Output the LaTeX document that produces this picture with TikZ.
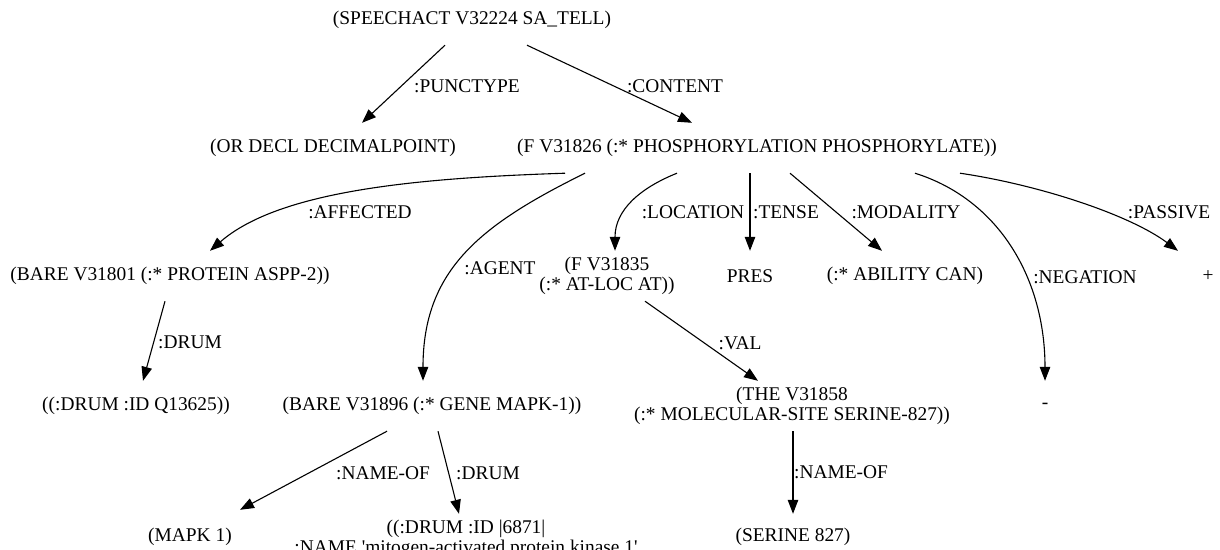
\documentclass[tikz,border=0pt]{standalone}
\usepackage{fontspec}
\setmainfont{Liberation Serif}
\usetikzlibrary{arrows.meta}

\begin{document}
\begin{tikzpicture}[x=1pt, y=-1pt,
    term/.style={minimum height=50pt, inner sep=0pt, align=center,
        font=\fontsize{19.4}{20}\selectfont},
    rel/.style={inner sep=0pt, font=\fontsize{19.4}{20}\selectfont},
    edge/.style={line width=1.1pt, -{Triangle[length=14pt,width=10.5pt]}}]
    \useasboundingbox (0,0) rectangle (1220,549);
    \clip (0,0) rectangle (1220,549);

    \node[term] (speech) at (472,20) {(SPEECHACT V32224 SA\_TELL)};

    \node[term] (ordecl) at (333,148) {(OR DECL DECIMALPOINT)};
    \node[term] (f826) at (757,148) {(F V31826 (:* PHOSPHORYLATION PHOSPHORYLATE))};

    \node[term] (bare801) at (170,276) {(BARE V31801 (:* PROTEIN ASPP-2))};
    \node[term] (f835) at (607,276) {(F V31835\\(:* AT-LOC AT))};
    \node[term] (pres) at (750,276) {PRES};
    \node[term] (ability) at (905,276) {(:* ABILITY CAN)};
    \node[term] (plus) at (1208,276) {+};

    \node[term] (drumq) at (136,406) {((:DRUM :ID Q13625))};
    \node[term] (bare896) at (432,406) {(BARE V31896 (:* GENE MAPK-1))};
    \node[term] (the858) at (792,406) {(THE V31858\\(:* MOLECULAR-SITE SERINE-827))};
    \node[term] (minus) at (1045,406) {-};

    \node[term] (mapk) at (190,537) {(MAPK 1)};
    \node[term] (drum6871) at (466,539) {((:DRUM :ID |6871|\\:NAME \textquotesingle mitogen-activated protein kinase 1\textquotesingle};
    \node[term] (serine) at (793,537) {(SERINE 827)};

    \draw[edge] ([xshift=-27pt]speech.south) -- ([xshift=29pt]ordecl.north);
    \node[rel] (punctype) at (467,86) {:PUNCTYPE};
    \draw[edge] ([xshift=55pt]speech.south) -- ([xshift=-65pt]f826.north);
    \node[rel] (content) at (675,86) {:CONTENT};

    \draw[edge] ([xshift=-192pt]f826.south) .. controls (420,178) and (280,190) .. ([xshift=40pt]bare801.north);
    \node[rel] (affected) at (360,212) {:AFFECTED};
    \draw[edge] ([xshift=-172pt]f826.south) .. controls (480,225) and (423,270) .. ([xshift=-9pt]bare896.north);
    \node[rel] (agent) at (500,268) {:AGENT};
    \draw[edge] ([xshift=-80pt]f826.south) .. controls (640,188) and (615,210) .. ([xshift=8pt]f835.north);
    \node[rel] (location) at (693,212) {:LOCATION};
    \draw[edge] ([xshift=-7pt]f826.south) -- (pres.north);
    \node[rel] (tense) at (786,212) {:TENSE};
    \draw[edge] ([xshift=33pt]f826.south) -- ([xshift=-23pt]ability.north);
    \node[rel] (modality) at (906,212) {:MODALITY};
    \draw[edge] ([xshift=158pt]f826.south) .. controls (1000,200) and (1045,280) .. (minus.north);
    \node[rel] (negation) at (1085,277) {:NEGATION};
    \draw[edge] ([xshift=203pt]f826.south) .. controls (1040,185) and (1130,215) .. ([xshift=-30pt]plus.north);
    \node[rel] (passive) at (1169,212) {:PASSIVE};

    \draw[edge] ([xshift=-5pt]bare801.south) -- ([xshift=7pt]drumq.north);
    \node[rel] (drumone) at (190,342) {:DRUM};
    \draw[edge] ([xshift=38pt]f835.south) -- ([xshift=-34pt]the858.north);
    \node[rel] (val) at (740,343) {:VAL};

    \draw[edge] ([xshift=-45pt]bare896.south) -- ([xshift=50pt,yshift=2pt]mapk.north);
    \node[rel] (nameofone) at (383,473) {:NAME-OF};
    \draw[edge] ([xshift=6pt]bare896.south) -- ([xshift=-7pt]drum6871.north);
    \node[rel] (drumtwo) at (488,473) {:DRUM};
    \draw[edge] ([xshift=1pt]the858.south) -- ([yshift=-2pt]serine.north);
    \node[rel] (nameoftwo) at (841,472) {:NAME-OF};
\end{tikzpicture}
\end{document}
